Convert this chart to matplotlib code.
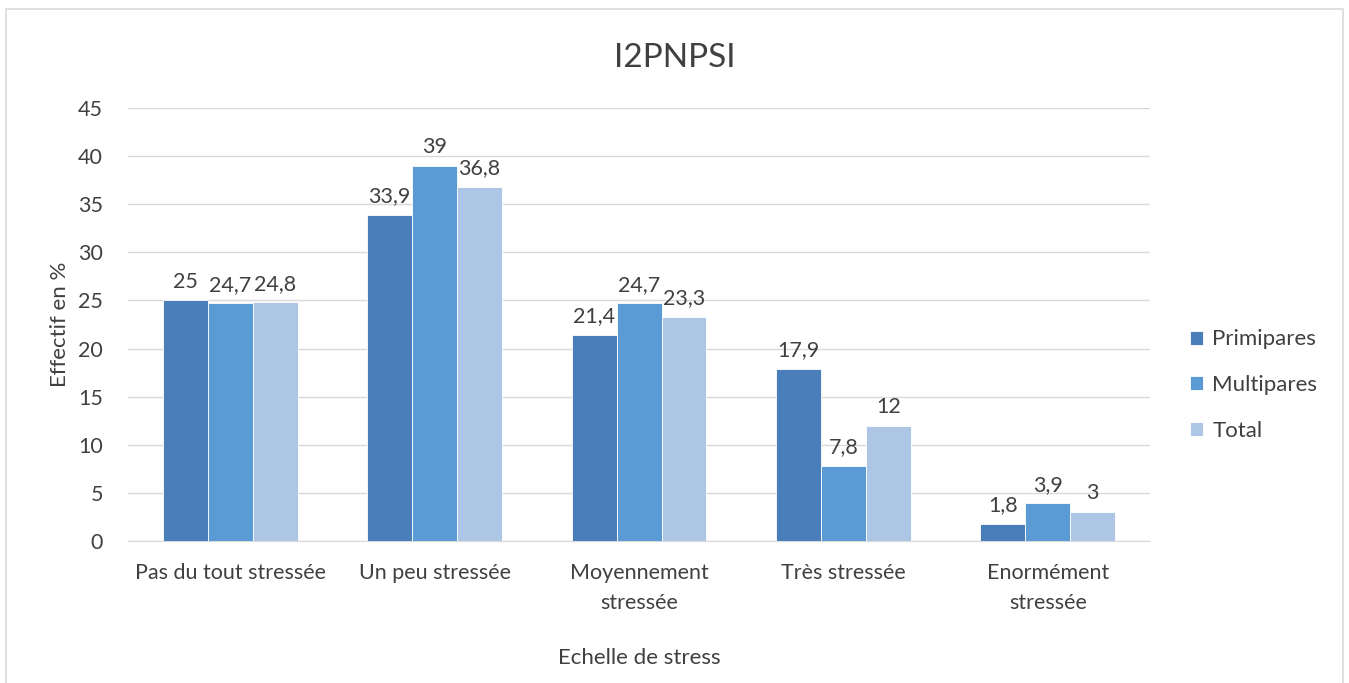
import matplotlib.pyplot as plt
import matplotlib.patches as mpatches
import numpy as np

plt.rcParams['font.family'] = ['Lato', 'DejaVu Sans']

categories = ['Pas du tout stressée', 'Un peu stressée', 'Moyennement\nstressée',
              'Très stressée', 'Enormément\nstressée']
primipares = [25, 33.9, 21.4, 17.9, 1.8]
multipares = [24.7, 39, 24.7, 7.8, 3.9]
total = [24.8, 36.8, 23.3, 12, 3]

series = [('Primipares', primipares, '#4a7ebb'),
          ('Multipares', multipares, '#5b9bd5'),
          ('Total', total, '#adc6e6')]

fig = plt.figure(figsize=(13.49, 6.83), dpi=100)
ax = fig.add_axes([0.0949, 0.2079, 0.7576, 0.634])

x = np.arange(len(categories))
w = 0.22
txt = '#404040'
for i, (name, vals, col) in enumerate(series):
    pos = x + (i - 1) * w
    ax.bar(pos, vals, w, color=col, label=name, edgecolor='white', linewidth=0.6, zorder=3)
    for p, v in zip(pos, vals):
        lab = ('%g' % v).replace('.', ',')
        ax.text(p, v + 0.9, lab, ha='center', va='bottom', fontsize=15.5, color=txt)

ax.set_xlim(-0.5, 4.5)
ax.set_ylim(0, 45)
ax.set_yticks(range(0, 46, 5))
ax.set_xticks(x)
ax.set_xticklabels(categories, fontsize=15.5, color=txt, linespacing=1.6)
ax.tick_params(axis='y', labelsize=15.5, labelcolor=txt, length=0, pad=18)
ax.tick_params(axis='x', length=0, pad=16)
ax.grid(axis='y', color='#d9d9d9', linewidth=1, zorder=0)
for s in ['left', 'right', 'top']:
    ax.spines[s].set_visible(False)
ax.spines['bottom'].set_color('#d9d9d9')

ax.set_ylabel('Effectif en %', fontsize=16, color=txt, labelpad=6)
ax.set_xlabel('Echelle de stress', fontsize=16, color=txt, labelpad=25)
fig.text(0.5, 0.915, 'I2PNPSI', ha='center', va='center', fontsize=24, color=txt)

ax.legend(loc='center left', bbox_to_anchor=(1170 / 1349, 1 - 385 / 683),
          bbox_transform=fig.transFigure, frameon=False,
          fontsize=16, labelcolor=txt, handlelength=0.6, handleheight=0.6,
          labelspacing=1.15, handletextpad=0.4)

fig.patches.append(mpatches.Rectangle((6 / 1349, -0.05), 1337 / 1349, 1.05 - 9 / 683,
                                      transform=fig.transFigure, fill=False,
                                      edgecolor='#d9d9d9', linewidth=1.2))

fig.savefig('out.png', dpi=100)
